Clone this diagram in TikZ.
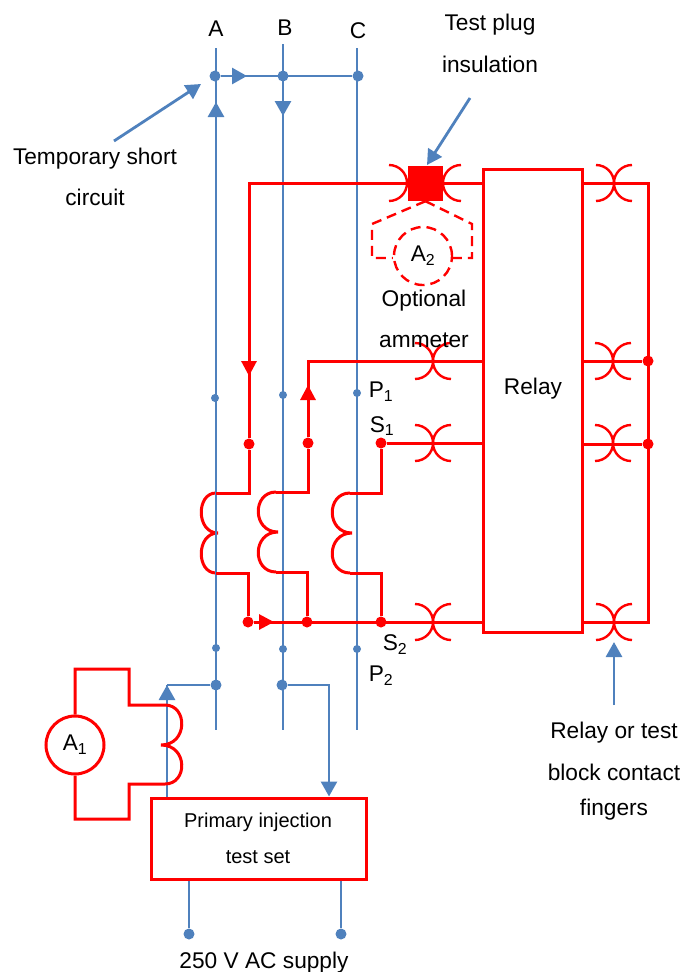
\documentclass[tikz,border=0pt]{standalone}
\usepackage{fontspec}
\setmainfont{Liberation Sans}
\usetikzlibrary{arrows.meta}
\definecolor{busblue}{HTML}{4F81BD}

\tikzset{
  redwire/.style={draw=red, line width=3pt, line join=miter},
  bluewire/.style={draw=busblue, line width=2.8pt},
  reddash/.style={draw=red, line width=2.4pt, dash pattern=on 10pt off 6pt},
  coilwire/.style={redwire, line join=bevel},
  redtip/.style={redwire, -{Triangle[length=15pt,width=15pt]}},
  bluetip/.style={bluewire, -{Triangle[length=15pt,width=16pt]}},
  label/.style={inner sep=0pt, yshift=-2pt, font=\fontsize{22.7}{27}\selectfont},
  smalllabel/.style={inner sep=0pt, yshift=-2pt, font=\fontsize{20}{24}\selectfont},
  reddot/.style={circle, fill=red, inner sep=0pt, minimum size=11pt},
  bluedot/.style={circle, fill=busblue, inner sep=0pt, minimum size=11pt},
  smalldot/.style={circle, fill=busblue, inner sep=0pt, minimum size=8pt},
  pics/finger/.style={code={
    \draw[draw=red, line width=2.4pt] (-18,-18) arc[start angle=90, end angle=-90, radius=18pt];
    \draw[draw=red, line width=2.4pt] (18,-18) arc[start angle=90, end angle=270, radius=18pt];
  }}
}

\begin{document}
\begin{tikzpicture}[x=1pt, y=-1pt]
  \useasboundingbox (0, 0) rectangle (683, 972);

  % boxes and meters
  \node[redwire, minimum width=99pt, minimum height=463pt, inner sep=0pt] (relay) at (532.5, 400.5) {};
  \node[label] (relaytext) at (533, 387) {Relay};
  \node[redwire, minimum width=215pt, minimum height=81pt, inner sep=0pt] (testset) at (258.5, 838.5) {};
  \node[smalllabel] (testsettop) at (258, 820) {Primary injection};
  \node[smalllabel] (testsetbot) at (258, 855) {test set};
  \node[circle, redwire, minimum size=58pt, inner sep=0pt, label] (amone) at (75, 743) {A\textsubscript{1}};
  \node[circle, reddash, minimum size=58pt, inner sep=0pt, label] (amtwo) at (423, 254) {A\textsubscript{2}};

  % current transformer coils
  \draw[coilwire] (216, 493) .. controls (196, 493) and (196, 533) .. (218, 533)
                             .. controls (196, 533) and (196, 573) .. (216, 573);
  \draw[coilwire] (276, 492) .. controls (252, 492) and (252, 532) .. (278, 532)
                             .. controls (252, 532) and (252, 572) .. (276, 572);
  \draw[coilwire] (350, 493) .. controls (326, 493) and (326, 533) .. (352, 533)
                             .. controls (326, 533) and (326, 573) .. (350, 573);

  % phase conductors
  \coordinate (atop) at (216, 48);
  \coordinate (btop) at (283, 44);
  \coordinate (ctop) at (357, 48);
  \coordinate (aend) at (216, 730);
  \coordinate (bend) at (283, 730);
  \coordinate (cend) at (357, 730);
  \node[bluedot] (ashort) at (215, 76) {};
  \node[bluedot] (bshort) at (283, 76) {};
  \node[bluedot] (cshort) at (358, 76) {};
  \node[bluedot] (ainject) at (216, 685) {};
  \node[bluedot] (binject) at (282, 685) {};
  \draw[bluewire] (atop) -- (aend);
  \draw[bluewire] (btop) -- (bend);
  \draw[bluewire] (ctop) -- (cend);
  \draw[bluewire] (ashort) -- (cshort);
  \foreach \name/\x/\y in {apone/215/398, bpone/283/395, cpone/357/393, aptwo/216/648, bptwo/283/649, cptwo/357/649}
    \node[smalldot] (\name) at (\x, \y) {};

  % arrows on the primary circuit
  \coordinate (atip) at (216, 102);
  \coordinate (abase) at (216, 118);
  \coordinate (stip) at (247, 76);
  \coordinate (btip) at (283, 116);
  \draw[bluetip] (abase) -- (atip);
  \draw[bluetip] (ashort) -- (stip);
  \draw[bluetip] (bshort) -- (btip);

  % injection leads
  \coordinate (leftturn) at (167, 685);
  \coordinate (rightturn) at (329, 685);
  \draw[bluewire] (testset.north -| leftturn) -- (leftturn);
  \draw[bluewire] (leftturn) -- (ainject);
  \draw[bluetip] (binject) -- (rightturn) -- (testset.north -| rightturn);
  \coordinate (leftup) at (167, 702);
  \draw[bluetip] (leftup) -- (leftturn);

  % supply
  \node[bluedot] (supplyl) at (189, 934) {};
  \node[bluedot] (supplyr) at (341, 934) {};
  \draw[bluewire] (testset.south -| supplyl) -- (supplyl);
  \draw[bluewire] (testset.south -| supplyr) -- (supplyr);

  % secondary wiring
  \node[reddot] (adot) at (249, 444) {};
  \node[reddot] (bdot) at (308, 443) {};
  \node[reddot] (cdot) at (381, 443) {};
  \node[reddot] (comdot) at (248, 622) {};
  \node[reddot] (bcom) at (307, 622) {};
  \node[reddot] (ccom) at (381, 622) {};
  \node[reddot] (rdotb) at (648, 361) {};
  \node[reddot] (rdotc) at (648, 444) {};
  \coordinate (acorner) at (249, 183);
  \coordinate (bcorner) at (308, 361);
  \coordinate (rtop) at (648, 183);
  \coordinate (rbot) at (648, 622);
  \coordinate (atipred) at (249, 376);
  \coordinate (btipred) at (308, 385);
  \coordinate (bbase) at (308, 402);
  \coordinate (comtip) at (274, 622);
  \draw[redwire] (adot) -- (acorner) -- (relay.west |- acorner);
  \draw[redtip] (acorner) -- (atipred);
  \draw[redwire] (bdot) -- (bcorner) -- (relay.west |- bcorner);
  \draw[redtip] (bbase) -- (btipred);
  \draw[redwire] (cdot) -- (relay.west |- cdot);
  \draw[redwire] (adot) |- (216, 493);
  \draw[redwire] (bdot) |- (276, 492);
  \draw[redwire] (cdot) |- (350, 493);
  \draw[redwire] (216, 573) -| (comdot);
  \draw[redwire] (276, 572) -| (bcom);
  \draw[redwire] (350, 573) -| (ccom);
  \draw[redwire] (comdot) -- (relay.west |- comdot);
  \draw[redtip] (comdot) -- (comtip);
  \draw[redwire] (relay.east |- rtop) -- (rtop) -- (rbot) -- (relay.east |- rbot);
  \draw[redwire] (relay.east |- rdotb) -- (rdotb);
  \draw[redwire] (relay.east |- rdotc) -- (rdotc);

  % contact fingers
  \foreach \x/\y in {433/361, 433/443, 433/622, 614/183, 613/361, 613/443, 614/622}
    \pic at (\x, \y) {finger};
  \draw[draw=red, line width=2.4pt] (389, 165) arc[start angle=90, end angle=-90, radius=18pt];
  \draw[draw=red, line width=2.4pt] (461, 165) arc[start angle=90, end angle=270, radius=18pt];

  % test plug and optional ammeter leads
  \node[fill=red, minimum size=35pt, inner sep=0pt] (plug) at (425.5, 183.5) {};
  \draw[reddash] (plug.south) -- (372, 224) -- (372, 258) -- (amtwo.west |- 0, 258);
  \draw[reddash] (plug.south) -- (472, 224) -- (472, 258) -- (amtwo.east |- 0, 258);

  % ammeter A1 loop
  \draw[redwire] (amone.north) -- (75, 669) -- (129, 669) -- (129, 705) -- (165, 705)
                 .. controls (188, 705) and (188, 745) .. (161, 745)
                 .. controls (188, 745) and (188, 784) .. (165, 784)
                 -- (129, 784) -- (129, 819) -- (75, 819) -- (amone.south);

  % labels
  \node[label] (pa) at (216, 27) {A};
  \node[label] (pb) at (285, 26) {B};
  \node[label] (pc) at (358, 29) {C};
  \node[label] (plugtop) at (490, 23) {Test plug};
  \node[label] (plugbot) at (490, 62) {insulation};
  \node[label] (shorttop) at (95, 157) {Temporary short};
  \node[label] (shortbot) at (95, 195) {circuit};
  \node[label] (opttop) at (424, 299) {Optional};
  \node[label] (optbot) at (424, 338) {ammeter};
  \node[label] (pone) at (381, 390) {P\textsubscript{1}};
  \node[label] (sone) at (382, 424) {S\textsubscript{1}};
  \node[label] (stwo) at (395, 643) {S\textsubscript{2}};
  \node[label] (ptwo) at (381, 674) {P\textsubscript{2}};
  \node[label] (fingtop) at (614, 731) {Relay or test};
  \node[label] (fingmid) at (614, 770) {block contact};
  \node[label] (fingbot) at (614, 808) {fingers};
  \node[label] (supply) at (264, 961) {250 V AC supply};

  % pointers
  \coordinate (ptshort) at (201, 84);
  \coordinate (fromshort) at (114, 141);
  \coordinate (ptplug) at (427, 165);
  \coordinate (fromplug) at (470, 98);
  \coordinate (ptfing) at (614, 642);
  \coordinate (fromfing) at (614, 705);
  \draw[bluetip] (fromshort) -- (ptshort);
  \draw[bluetip] (fromplug) -- (ptplug);
  \draw[bluetip] (fromfing) -- (ptfing);
\end{tikzpicture}
\end{document}
